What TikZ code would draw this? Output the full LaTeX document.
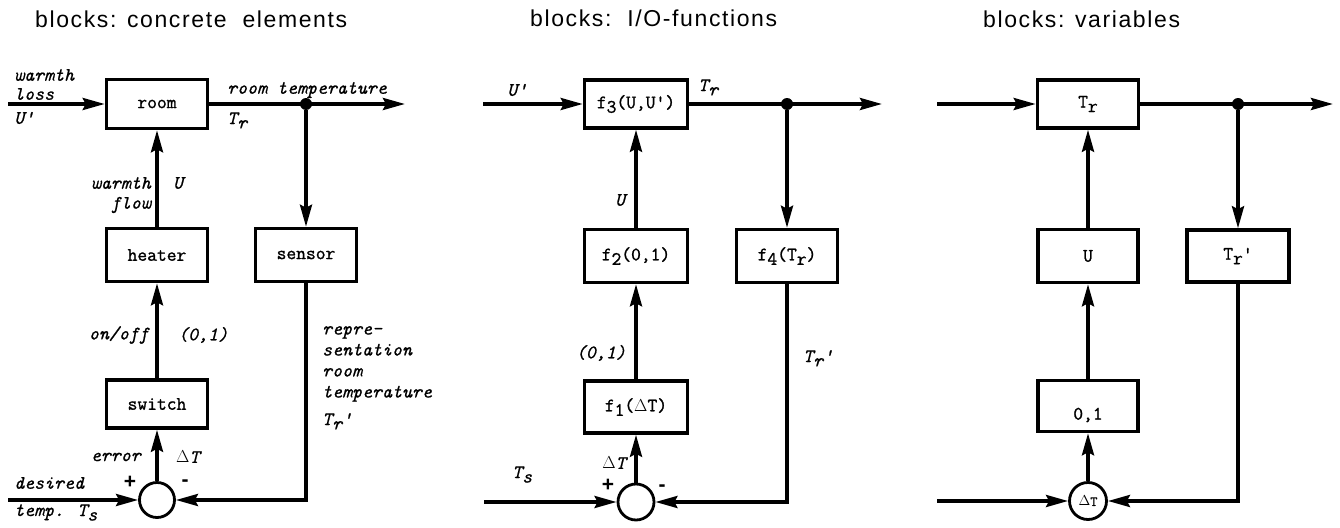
\documentclass[tikz,border=0pt]{standalone}
\usepackage{fontspec}
\newfontfamily\titlefont[LetterSpace=7]{Liberation Sans}
\newfontfamily\signfont{Liberation Sans}
\newfontfamily\boxfont[FakeBold=1.2]{Latin Modern Mono}
\newfontfamily\labfont[FakeBold=0.8]{Latin Modern Mono}
\usetikzlibrary{arrows.meta}
\newcommand\lowr[1]{\raisebox{-0.55ex}{#1}}
\begin{document}
\begin{tikzpicture}[x=1pt,y=-1pt,
  blk/.style={draw, line width=3.5pt, minimum width=100pt, minimum height=50pt, inner sep=0pt, font=\boxfont\fontsize{19}{21}\selectfont},
  btxt/.style={inner sep=0pt, font=\boxfont\fontsize{19}{21}\selectfont},
  lab/.style={font=\labfont\itshape\fontsize{19}{21}\selectfont, inner sep=0pt},
  ttl/.style={font=\titlefont\fontsize{23}{25}\selectfont, inner sep=0pt, anchor=base west},
  sgn/.style={font=\signfont\bfseries\fontsize{21}{21}\selectfont, inner sep=0pt},
  sumc/.style={circle, draw, line width=2.8pt, minimum size=35pt, inner sep=0pt},
  jdot/.style={circle, fill, inner sep=0pt, minimum size=12pt},
  arr/.style={line width=3.5pt, -{Stealth[length=22pt,width=12pt,inset=3pt]}},
]
\useasboundingbox (0,0) rectangle (1340,527);

% titles
\node[ttl] (t1) at (35,28) {blocks: concrete\ \ elements};
\node[ttl] (t2) at (530,27) {blocks:\ \ I/O-functions};
\node[ttl] (t3) at (983,28) {blocks: variables};

% ---------------- panel 1
\node[blk, minimum width=101pt, minimum height=49pt] (room) at (157,104) {room};
\node[blk, minimum width=101pt, minimum height=53pt] (heater) at (157,255) {heater};
\node[blk, minimum width=101pt, minimum height=48pt] (switch) at (157,404) {switch};
\node[blk, minimum width=101pt, minimum height=53pt] (sensor) at (306,255) {sensor};
\node[sumc] (s1) at (157,500) {};
\node[jdot] (d1) at (306,104) {};
\coordinate (in1) at (8,104);
\coordinate (out1) at (405,104);
\coordinate (ds1) at (8,500);

\draw[arr] (in1) -- (room.west);
\draw[arr] (room.east) -- (out1);
\draw[arr] (d1) -- (sensor.north);
\draw[arr] (heater.north) -- (room.south);
\draw[arr] (switch.north) -- (heater.south);
\draw[arr] (s1.north) -- (switch.south);
\draw[arr] (ds1) -- (s1.west);
\draw[arr] (sensor.south) |- (s1.east);

\node[lab, anchor=west] at (14,75) {warmth};
\node[lab, anchor=west] at (14,94) {loss};
\node[lab, anchor=west] at (14,118) {U'};
\node[lab, anchor=west] at (227,90) {room temperature};
\node[lab, anchor=base west] at (227,124) {T\lowr{r}};
\node[lab, anchor=east] at (151,183) {warmth};
\node[lab, anchor=east] at (151,205) {flow};
\node[lab] at (178,183) {U};
\node[lab, anchor=east] at (149,335) {on/off};
\node[lab, anchor=west] at (178,335) {(0,1)};
\node[lab, anchor=east] at (141,457) {error};
\node[lab, anchor=west] at (176,457) {\(\Delta\)T};
\node[sgn] at (130,482) {+};
\node[sgn] at (185,483) {-};
\node[lab, anchor=west] at (14,483) {desired};
\node[lab, anchor=base west] at (14,516) {temp. T\lowr{s}};
\node[lab, anchor=north west, align=left] at (322,326) {repre-\\sentation\\room\\temperature};
\node[lab, anchor=base west] at (322,425) {T\lowr{r}'};

% ---------------- panel 2
\node[blk, minimum width=103pt, minimum height=48pt] (f3) at (636,104) {f\lowr{3}(U,U')};
\node[blk, minimum width=103pt, minimum height=53pt] (f2) at (636,256) {f\lowr{2}(0,1)};
\node[blk, minimum width=103pt, minimum height=52pt] (f1) at (636,407) {f\lowr{1}(\(\Delta\)T)};
\node[blk, minimum width=101pt, minimum height=53pt] (f4) at (787,256) {f\lowr{4}(T\lowr{r})};
\node[sumc, minimum size=36pt] (s2) at (636,502) {};
\node[jdot] (d2) at (787,104) {};
\coordinate (in2) at (483,104);
\coordinate (out2) at (882,104);
\coordinate (ts2) at (484,502);

\draw[arr] (in2) -- (f3.west);
\draw[arr] (f3.east) -- (out2);
\draw[arr] (d2) -- (f4.north);
\draw[arr] (f2.north) -- (f3.south);
\draw[arr] (f1.north) -- (f2.south);
\draw[arr] (s2.north) -- (f1.south);
\draw[arr] (ts2) -- (s2.west);
\draw[arr] (f4.south) |- (s2.east);

\node[lab, anchor=west] at (507,90) {U'};
\node[lab, anchor=base west] at (698,91) {T\lowr{r}};
\node[lab] at (620,200) {U};
\node[lab, anchor=east] at (626,353) {(0,1)};
\node[lab] at (614,463) {\(\Delta\)T};
\node[sgn] at (608,485) {+};
\node[sgn] at (662,488) {-};
\node[lab, anchor=base west] at (512,478) {T\lowr{s}};
\node[lab, anchor=base west] at (803,362) {T\lowr{r}'};

% ---------------- panel 3
\node[blk, minimum width=101pt, minimum height=48pt] (tr) at (1088,104) {T\lowr{r}};
\node[blk, minimum width=100pt, minimum height=53pt] (u) at (1088,256) {U};
\node[blk, minimum width=100pt, minimum height=51pt] (b01) at (1088,406) {};
\node[btxt] (t01) at ([yshift=-9pt]b01.center) {0,1};
\node[blk, minimum width=102pt, minimum height=52pt] (trp) at (1238,256) {T\lowr{r}'};
\node[sumc, minimum size=37pt, font=\boxfont\fontsize{14}{14}\selectfont] (s3) at (1088,501) {\(\Delta\)T};
\node[jdot] (d3) at (1238,104) {};
\coordinate (in3) at (937,104);
\coordinate (out3) at (1333,104);
\coordinate (ts3) at (937,501);

\draw[arr] (in3) -- (tr.west);
\draw[arr] (tr.east) -- (out3);
\draw[arr] (d3) -- (trp.north);
\draw[arr] (u.north) -- (tr.south);
\draw[arr] (b01.north) -- (u.south);
\draw[arr] (s3.north) -- (b01.south);
\draw[arr] (ts3) -- (s3.west);
\draw[arr] (trp.south) |- (s3.east);
\end{tikzpicture}
\end{document}
